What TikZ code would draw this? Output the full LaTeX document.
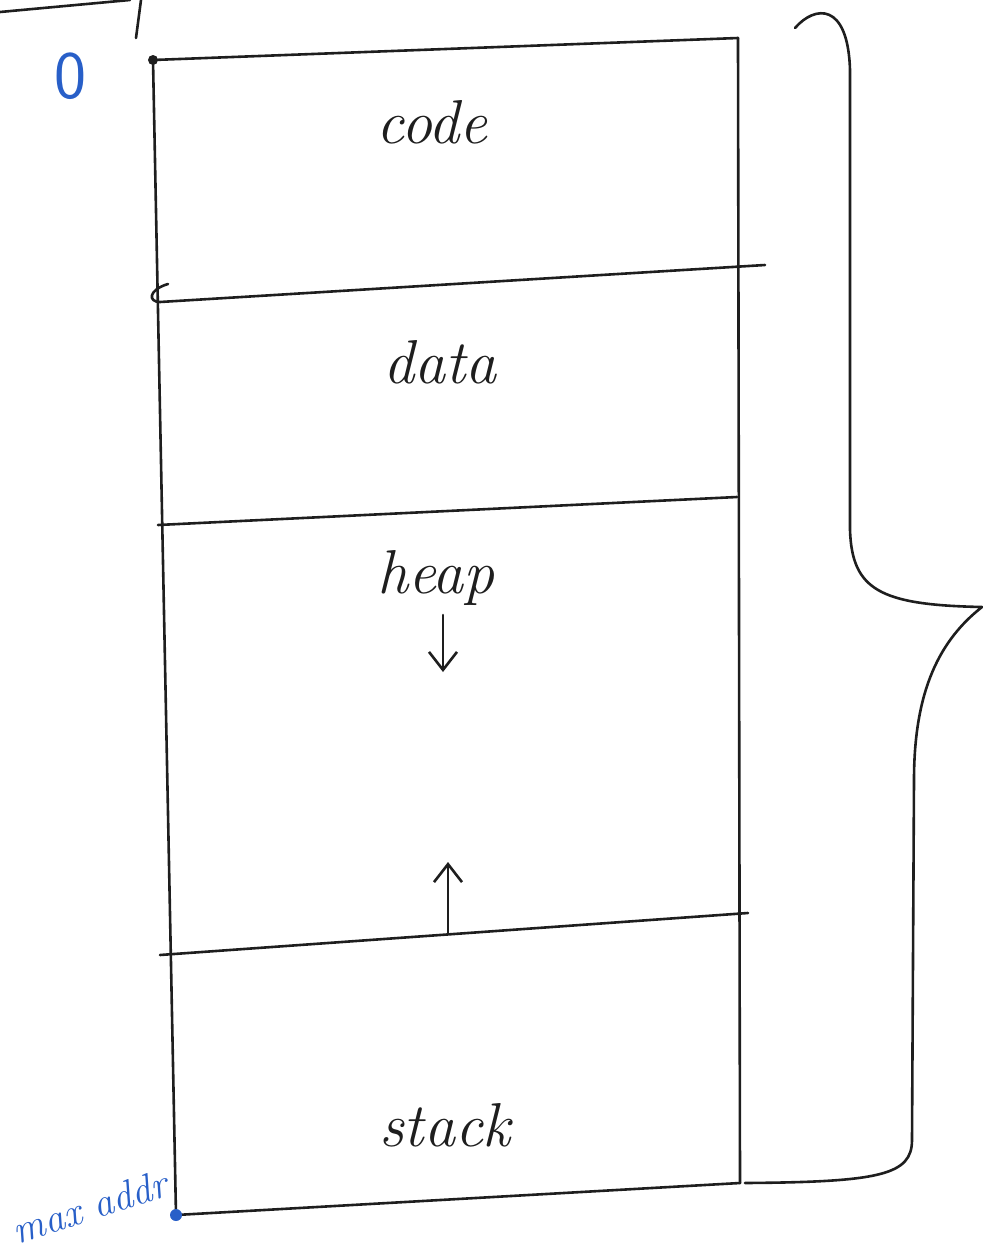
\documentclass[tikz,border=0pt]{standalone}
\usetikzlibrary{arrows.meta}
\definecolor{ink}{RGB}{30,30,30}
\definecolor{blueink}{RGB}{40,95,200}
\begin{document}
\begin{tikzpicture}[x=0.5pt,y=-0.5pt,
  pen/.style={draw=ink,line width=1.3pt,line cap=round,line join=round},
  lbl/.style={font=\fontsize{31}{36}\selectfont\itshape,text=ink,inner sep=0pt},
  bluelbl/.style={font=\fontsize{20}{24}\selectfont\itshape,text=blueink,inner sep=0pt},
  growarrow/.style={pen,-{Straight Barb[length=9pt,width=14pt,line width=1.3pt]}}]
\useasboundingbox (0,0) rectangle (983,1254);
% stray marks at the page top
\draw[pen] (0,12) -- (130,0);
\draw[pen] (141,0) -- (136,38);
% corners
\coordinate (tl) at (153,60);
\coordinate (tr) at (738,38);
\coordinate (bl) at (176,1215);
\coordinate (br) at (740,1183);
\coordinate (c1l) at (160,302);
\coordinate (c1r) at (765,265);
\coordinate (c2l) at (158,525);
\coordinate (c2r) at (737,497);
\coordinate (c3l) at (160,955);
\coordinate (c3r) at (748,913);
% outline
\draw[pen] (tl) -- (tr);
\draw[pen] (tr) -- (br);
\draw[pen] (tl) -- (bl);
\draw[pen] (bl) -- (br);
% dividers
\draw[pen] (c1r) -- (c1l) .. controls (148,302) and (148,290) .. (168,284);
\draw[pen] (c2l) -- (c2r);
\draw[pen] (c3l) -- (c3r);
% dots
\fill[ink] (tl) circle (5);
\fill[blueink] (bl) circle (6);
% labels
\node[lbl] (code) at (432,122) {code};
\node[lbl] (data) at (440,362) {data};
\node[lbl] (heap) at (436,578) {heap};
\node[lbl] (stack) at (445,1125) {stack};
\coordinate (hd1) at (443,615);
\coordinate (hd2) at (443,672);
\coordinate (su1) at (448,933);
\coordinate (su2) at (448,862);
\draw[growarrow] (hd1) -- (hd2);
\draw[growarrow] (su1) -- (su2);
% blue labels
\node[font=\fontsize{34}{40}\selectfont\sffamily,text=blueink] (zero) at (70,76) {0};
\node[bluelbl,rotate=18] (maxaddr) at (90,1207) {max addr};
% brace
\draw[pen] (795,28) .. controls (815,5) and (848,2) .. (850,70)
  -- (850,530) .. controls (852,590) and (880,605) .. (982,607)
  .. controls (940,640) and (914,690) .. (914,780)
  -- (912,1140) .. controls (912,1175) and (880,1182) .. (745,1183);
\end{tikzpicture}
\end{document}
